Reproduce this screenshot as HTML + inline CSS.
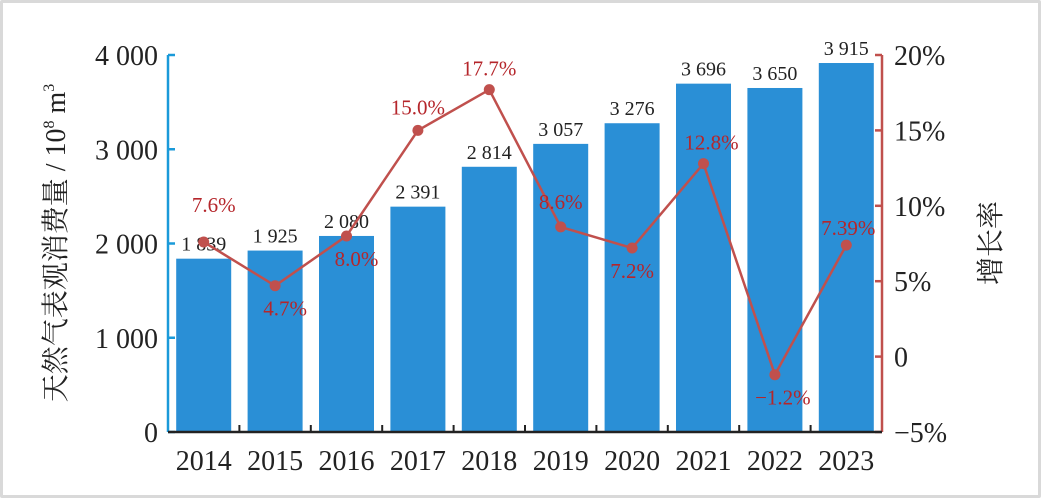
<!DOCTYPE html>
<html><head><meta charset="utf-8"><style>
html,body{margin:0;padding:0;background:#fff}
#wrap{width:1041px;height:498px;position:relative;box-sizing:border-box;border:3px solid #d9d9d9;border-radius:2px;overflow:hidden}
svg{position:absolute;left:-3px;top:-3px}
text{font-family:"Liberation Serif","Noto Serif CJK SC",serif}
</style></head><body>
<div id="wrap">
<svg id="chart" width="1041" height="498"></svg>
</div>
<script>
const years=["2014","2015","2016","2017","2018","2019","2020","2021","2022","2023"];
const consumption=[1839,1925,2080,2391,2814,3057,3276,3696,3650,3915];
const consumptionLabels=["1 839","1 925","2 080","2 391","2 814","3 057","3 276","3 696","3 650","3 915"];
const growth=[7.6,4.7,8.0,15.0,17.7,8.6,7.2,12.8,-1.2,7.39];
const growthLabels=["7.6%","4.7%","8.0%","15.0%","17.7%","8.6%","7.2%","12.8%","\u22121.2%","7.39%"];
const leftTicks=[0,1000,2000,3000,4000];
const leftTickLabels=["0","1 000","2 000","3 000","4 000"];
const rightTicks=[-5,0,5,10,15,20];
const rightTickLabels=["\u22125%","0","5%","10%","15%","20%"];

const NS="http://www.w3.org/2000/svg";
const svg=document.getElementById('chart');
const X0=168,X1=882,YB=432,YT=55;
const step=(X1-X0)/years.length;
const xc=i=>X0+step*(i+0.5);
const yL=v=>YB-(v/4000)*(YB-YT);
const yR=v=>YB-((v+5)/25)*(YB-YT);
function mk(tag,attrs,txt){const e=document.createElementNS(NS,tag);for(const k in attrs)e.setAttribute(k,attrs[k]);if(txt!=null)e.textContent=txt;svg.appendChild(e);return e;}

years.forEach((y,i)=>{
  const v=consumption[i];
  const b=mk('rect',{x:xc(i)-27.5,y:yL(v),width:55,height:YB-yL(v),fill:'#2a8fd6'});
  
  
  const t=mk('text',{x:xc(i),y:yL(v)-8,'text-anchor':'middle','font-size':20,fill:'#222'},consumptionLabels[i]);
  
  
});
let a=mk('line',{x1:X0,y1:YT,x2:X0,y2:YB,stroke:'#1a9ad9','stroke-width':2.5});

leftTicks.forEach((v,i)=>{
  const tk=mk('line',{x1:X0,y1:yL(v),x2:X0+7,y2:yL(v),stroke:'#1a9ad9','stroke-width':2.5});
  
  const t=mk('text',{x:158,y:yL(v)+10,'text-anchor':'end','font-size':28,fill:'#222'},leftTickLabels[i]);
  
});
a=mk('line',{x1:X1,y1:YT,x2:X1,y2:YB,stroke:'#c0504d','stroke-width':2.5});

rightTicks.forEach((v,i)=>{
  const tk=mk('line',{x1:X1-7,y1:yR(v),x2:X1,y2:yR(v),stroke:'#c0504d','stroke-width':2.5});
  
  const t=mk('text',{x:894,y:yR(v)+10,'font-size':28,fill:'#222'},rightTickLabels[i]);
  
});
a=mk('line',{x1:X0,y1:YB,x2:X1,y2:YB,stroke:'#222','stroke-width':2.5});

for(let i=1;i<years.length;i++){
  const tk=mk('line',{x1:X0+step*i,y1:YB,x2:X0+step*i,y2:YB-7,stroke:'#222','stroke-width':2});
  
}
years.forEach((y,i)=>{
  const t=mk('text',{x:xc(i),y:470,'text-anchor':'middle','font-size':28,fill:'#222'},y);
  
});
const pts=growth.map((g,i)=>xc(i)+','+yR(g)).join(' ');
const pl=mk('polyline',{points:pts,fill:'none',stroke:'#c0504d','stroke-width':2.5});

const offs=[[10,-30],[10,30],[10,30],[0,-16],[0,-14],[0,-18],[0,30],[8,-14],[8,30],[2,-10]];
growth.forEach((g,i)=>{
  const c=mk('circle',{cx:xc(i),cy:yR(g),r:5.5,fill:'#c0504d'});
  
  const t=mk('text',{x:xc(i)+offs[i][0],y:yR(g)+offs[i][1],'text-anchor':'middle','font-size':21,fill:'#b5262b'},growthLabels[i]);
  
});
let tt=mk('text',{x:0,y:0,'font-size':28,fill:'#222',transform:'translate(65,243) rotate(-90)','text-anchor':'middle'});
tt.innerHTML='天然气表观消费量 / 10<tspan dy="-11" font-size="16">8</tspan><tspan dy="11"> m</tspan><tspan dy="-11" font-size="16">3</tspan>';

tt=mk('text',{x:0,y:0,'font-size':28,fill:'#222',transform:'translate(1000,243) rotate(-90)','text-anchor':'middle'},'增长率');

</script>
</body></html>
